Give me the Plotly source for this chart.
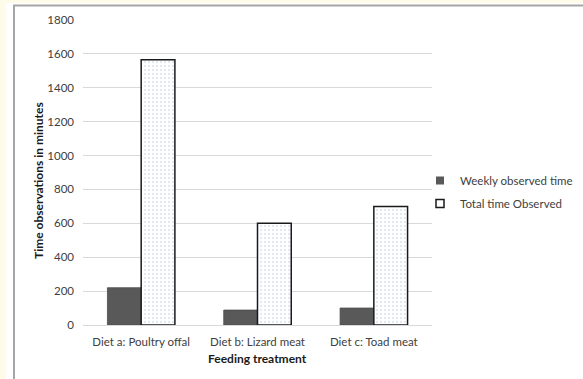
import plotly.graph_objects as go

# Feeding trial observation times (minutes)
categories = ["Diet a: Poultry offal", "Diet b: Lizard meat", "Diet c: Toad meat"]
weekly_observed = [220, 88, 100]
total_observed = [1565, 600, 700]
y_ticks = [0, 200, 400, 600, 800, 1000, 1200, 1400, 1600, 1800]

W, H = 583, 379
ML, MR, MT, MB = 83, 151, 20, 54
PW, PH = W - ML - MR, H - MT - MB


def px(x):
    return (x - ML) / PW


def py(y):
    return (H - MB - y) / PH


FONT = "Lato, 'Liberation Sans', sans-serif"
TXT = "#404040"

fig = go.Figure()
fig.add_trace(go.Bar(
    name="Weekly observed time",
    x=categories, y=weekly_observed,
    marker=dict(color="#595959", line=dict(color="#4a4a4a", width=0.8)),
    showlegend=False,
))
fig.add_trace(go.Bar(
    name="Total time Observed",
    x=categories, y=total_observed,
    marker=dict(
        color="white",
        line=dict(color="#1a1a1a", width=1.5),
        pattern=dict(shape=".", fgcolor="#c3cee4", bgcolor="white",
                     size=4, solidity=0.25),
    ),
    showlegend=False,
))

# Legend keys: small squares matching the bar styles
fig.add_trace(go.Scatter(
    name="Weekly observed time", x=[None], y=[None], mode="markers",
    marker=dict(symbol="square", size=8, color="#595959",
                line=dict(color="#595959", width=0)),
    legendgroup="a",
))
fig.add_trace(go.Scatter(
    name="Total time Observed", x=[None], y=[None], mode="markers",
    marker=dict(symbol="square", size=8, color="white",
                line=dict(color="#1a1a1a", width=1.5)),
    legendgroup="b",
))

# Chart frame: white card with grey edges on a cream page
shapes = [
    dict(type="rect", xref="paper", yref="paper", layer="below",
         x0=px(6), x1=px(W + 5), y0=py(3), y1=py(H + 5),
         fillcolor="white", line=dict(width=0)),
    dict(type="line", xref="paper", yref="paper", layer="below",
         x0=px(14), x1=px(14), y0=py(5), y1=py(H + 5),
         line=dict(color="#a6a6a6", width=2)),
    dict(type="line", xref="paper", yref="paper", layer="below",
         x0=px(13), x1=px(W + 5), y0=py(5.5), y1=py(5.5),
         line=dict(color="#a6a6a6", width=2)),
]

annotations = [
    dict(text="<b>Time observations in minutes</b>", xref="paper", yref="paper",
         x=px(38), y=py(181), xanchor="center", yanchor="middle",
         textangle=-90, showarrow=False,
         font=dict(family=FONT, size=12, color="#1a1a1a")),
    dict(text="<b>Feeding treatment</b>", xref="paper", yref="paper",
         x=0.5, y=py(358), xanchor="center", yanchor="middle",
         showarrow=False,
         font=dict(family=FONT, size=12, color="#1a1a1a")),
]

fig.update_layout(
    width=W, height=H,
    margin=dict(l=ML, r=MR, t=MT, b=MB, autoexpand=False),
    paper_bgcolor="#fffbe9",
    plot_bgcolor="white",
    barmode="group",
    bargap=0.42,
    bargroupgap=0,
    font=dict(family=FONT, size=11.5, color=TXT),
    shapes=shapes,
    annotations=annotations,
    showlegend=True,
    legend=dict(
        x=px(420), y=py(166), xanchor="left", yanchor="top",
        bgcolor="rgba(0,0,0,0)",
        font=dict(family=FONT, size=11.5, color=TXT),
        tracegroupgap=4,
        itemwidth=30,
    ),
    xaxis=dict(
        showgrid=False, showline=False, ticks="",
        ticklabelstandoff=8,
        tickfont=dict(size=11.5, color=TXT),
    ),
    yaxis=dict(
        range=[0, 1800], tickvals=y_ticks,
        showgrid=True, gridcolor="#d9d9d9", gridwidth=1,
        zeroline=True, zerolinecolor="#d9d9d9", zerolinewidth=1,
        showline=False, ticks="",
        ticklabelstandoff=8,
        tickfont=dict(size=11.5, color=TXT),
    ),
)

fig.write_html("out.html")
